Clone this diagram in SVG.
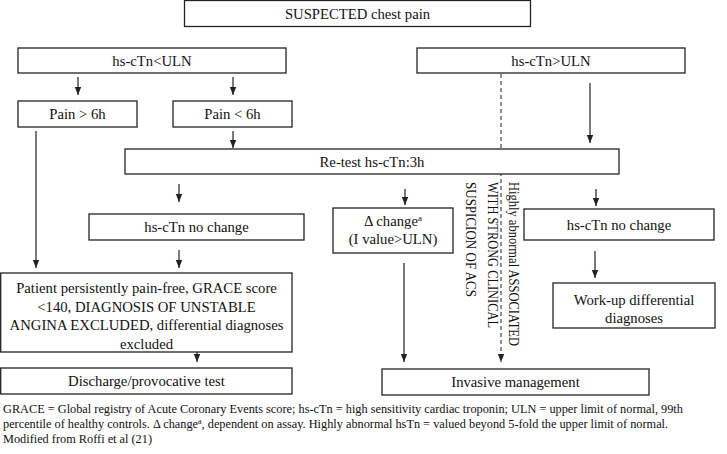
<svg xmlns="http://www.w3.org/2000/svg" width="727" height="454" viewBox="0 0 727 454">
<style>
.box{fill:#fff;stroke:#222;stroke-width:1.3}
.t{font-family:'Liberation Serif','Times New Roman',Times,'DejaVu Serif',serif;font-size:14.7px;fill:#111;text-anchor:middle}
.v{font-family:'Liberation Serif','Times New Roman',Times,'DejaVu Serif',serif;font-size:14.7px;fill:#111}
.f{font-family:'Liberation Serif','Times New Roman',Times,'DejaVu Serif',serif;font-size:12.3px;fill:#111}
.c{stroke:#222;stroke-width:1.2;fill:none}
.d{stroke:#222;stroke-width:1;fill:none;stroke-dasharray:4 3}
</style>
<defs>
<marker id="a" markerUnits="userSpaceOnUse" markerWidth="8" markerHeight="8" viewBox="0 0 8 8" refX="8" refY="4" orient="auto">
<path d="M0,0.8 L8,4 L0,7.2 Z" fill="#222"/>
</marker>
</defs>
<g id="connectors">
<line class="c" x1="78" y1="77" x2="78" y2="95" marker-end="url(#a)"/>
<line class="c" x1="233" y1="77" x2="233" y2="95" marker-end="url(#a)"/>
<line class="c" x1="233" y1="131" x2="233" y2="148" marker-end="url(#a)"/>
<line class="c" x1="36" y1="131" x2="36" y2="268" marker-end="url(#a)"/>
<line class="c" x1="590" y1="83" x2="590" y2="143" marker-end="url(#a)"/>
<line class="d" x1="501" y1="74" x2="501" y2="362" marker-end="url(#a)"/>
<line class="c" x1="179" y1="184" x2="179" y2="202" marker-end="url(#a)"/>
<line class="c" x1="179" y1="250" x2="179" y2="268" marker-end="url(#a)"/>
<line class="c" x1="405" y1="189" x2="405" y2="205" marker-end="url(#a)"/>
<line class="c" x1="596" y1="189" x2="596" y2="206" marker-end="url(#a)"/>
<line class="c" x1="595" y1="251" x2="595" y2="278" marker-end="url(#a)"/>
<line class="c" x1="404" y1="263" x2="404" y2="362" marker-end="url(#a)"/>
<line class="c" x1="197" y1="339" x2="197" y2="362" marker-end="url(#a)"/>
</g>
<g id="n-suspected"><rect class="box" x="184.5" y="0.5" width="346" height="26"/><text class="t" x="357.5" y="18.5">SUSPECTED chest pain</text></g>
<g id="n-lt"><rect class="box" x="18" y="48" width="268" height="25"/><text class="t" x="152" y="66">hs-cTn&lt;ULN</text></g>
<g id="n-gt"><rect class="box" x="417" y="48" width="268" height="25"/><text class="t" x="551" y="66">hs-cTn&gt;ULN</text></g>
<g id="n-p6"><rect class="box" x="18" y="101" width="119" height="26"/><text class="t" x="77.5" y="119">Pain &gt; 6h</text></g>
<g id="n-l6"><rect class="box" x="173" y="101" width="119" height="26"/><text class="t" x="232.5" y="119">Pain &lt; 6h</text></g>
<g id="n-retest"><rect class="box" x="125" y="149" width="494" height="25"/><text class="t" x="372" y="166.5">Re-test hs-cTn:3h</text></g>
<g id="n-nc1"><rect class="box" x="89" y="214" width="215" height="26"/><text class="t" x="196.5" y="232">hs-cTn no change</text></g>
<g id="n-delta"><rect class="box" x="333" y="208" width="120" height="45"/><text class="t" x="393" y="226">Δ change<tspan font-size="9" dy="-5">a</tspan></text><text class="t" x="393" y="244">(I value&gt;ULN)</text></g>
<g id="n-nc2"><rect class="box" x="524" y="209" width="190" height="31"/><text class="t" x="619" y="230">hs-cTn no change</text></g>
<g id="n-workup"><rect class="box" x="553" y="283" width="162" height="45"/><text class="t" x="634" y="304.5">Work-up differential</text><text class="t" x="634" y="322.5">diagnoses</text></g>
<g id="n-patient"><rect class="box" x="0.7" y="273" width="291.3" height="79"/>
<text class="t" x="146.5" y="293">Patient persistently pain-free, GRACE score</text>
<text class="t" x="146.5" y="311.5">&lt;140, DIAGNOSIS OF UNSTABLE</text>
<text class="t" x="146.5" y="330">ANGINA EXCLUDED, differential diagnoses</text>
<text class="t" x="146.5" y="348.5">excluded</text></g>
<g id="n-discharge"><rect class="box" x="0.7" y="368" width="291.3" height="26"/><text class="t" x="146.5" y="386">Discharge/provocative test</text></g>
<g id="n-invasive"><rect class="box" x="382" y="369" width="267" height="26"/><text class="t" x="515.5" y="387">Invasive management</text></g>
<g id="label-vertical">
<text class="v" transform="translate(509,182) rotate(90)" textLength="164" lengthAdjust="spacingAndGlyphs">Highly abnormal ASSOCIATED</text>
<text class="v" transform="translate(487.5,182) rotate(90)" textLength="146" lengthAdjust="spacingAndGlyphs">WITH STRONG CLINICAL</text>
<text class="v" transform="translate(466,182) rotate(90)" textLength="115" lengthAdjust="spacingAndGlyphs">SUSPICION OF ACS</text>
</g>
<g id="footer">
<text class="f" x="3" y="413">GRACE = Global registry of Acute Coronary Events score; hs-cTn = high sensitivity cardiac troponin; ULN = upper limit of normal, 99th</text>
<text class="f" x="3" y="428">percentile of healthy controls. Δ change<tspan font-size="8" dy="-4">a</tspan><tspan dy="4">, dependent on assay. Highly abnormal hsTn = valued beyond 5-fold the upper limit of normal.</tspan></text>
<text class="f" x="3" y="443">Modified from Roffi et al (21)</text>
</g>
</svg>
